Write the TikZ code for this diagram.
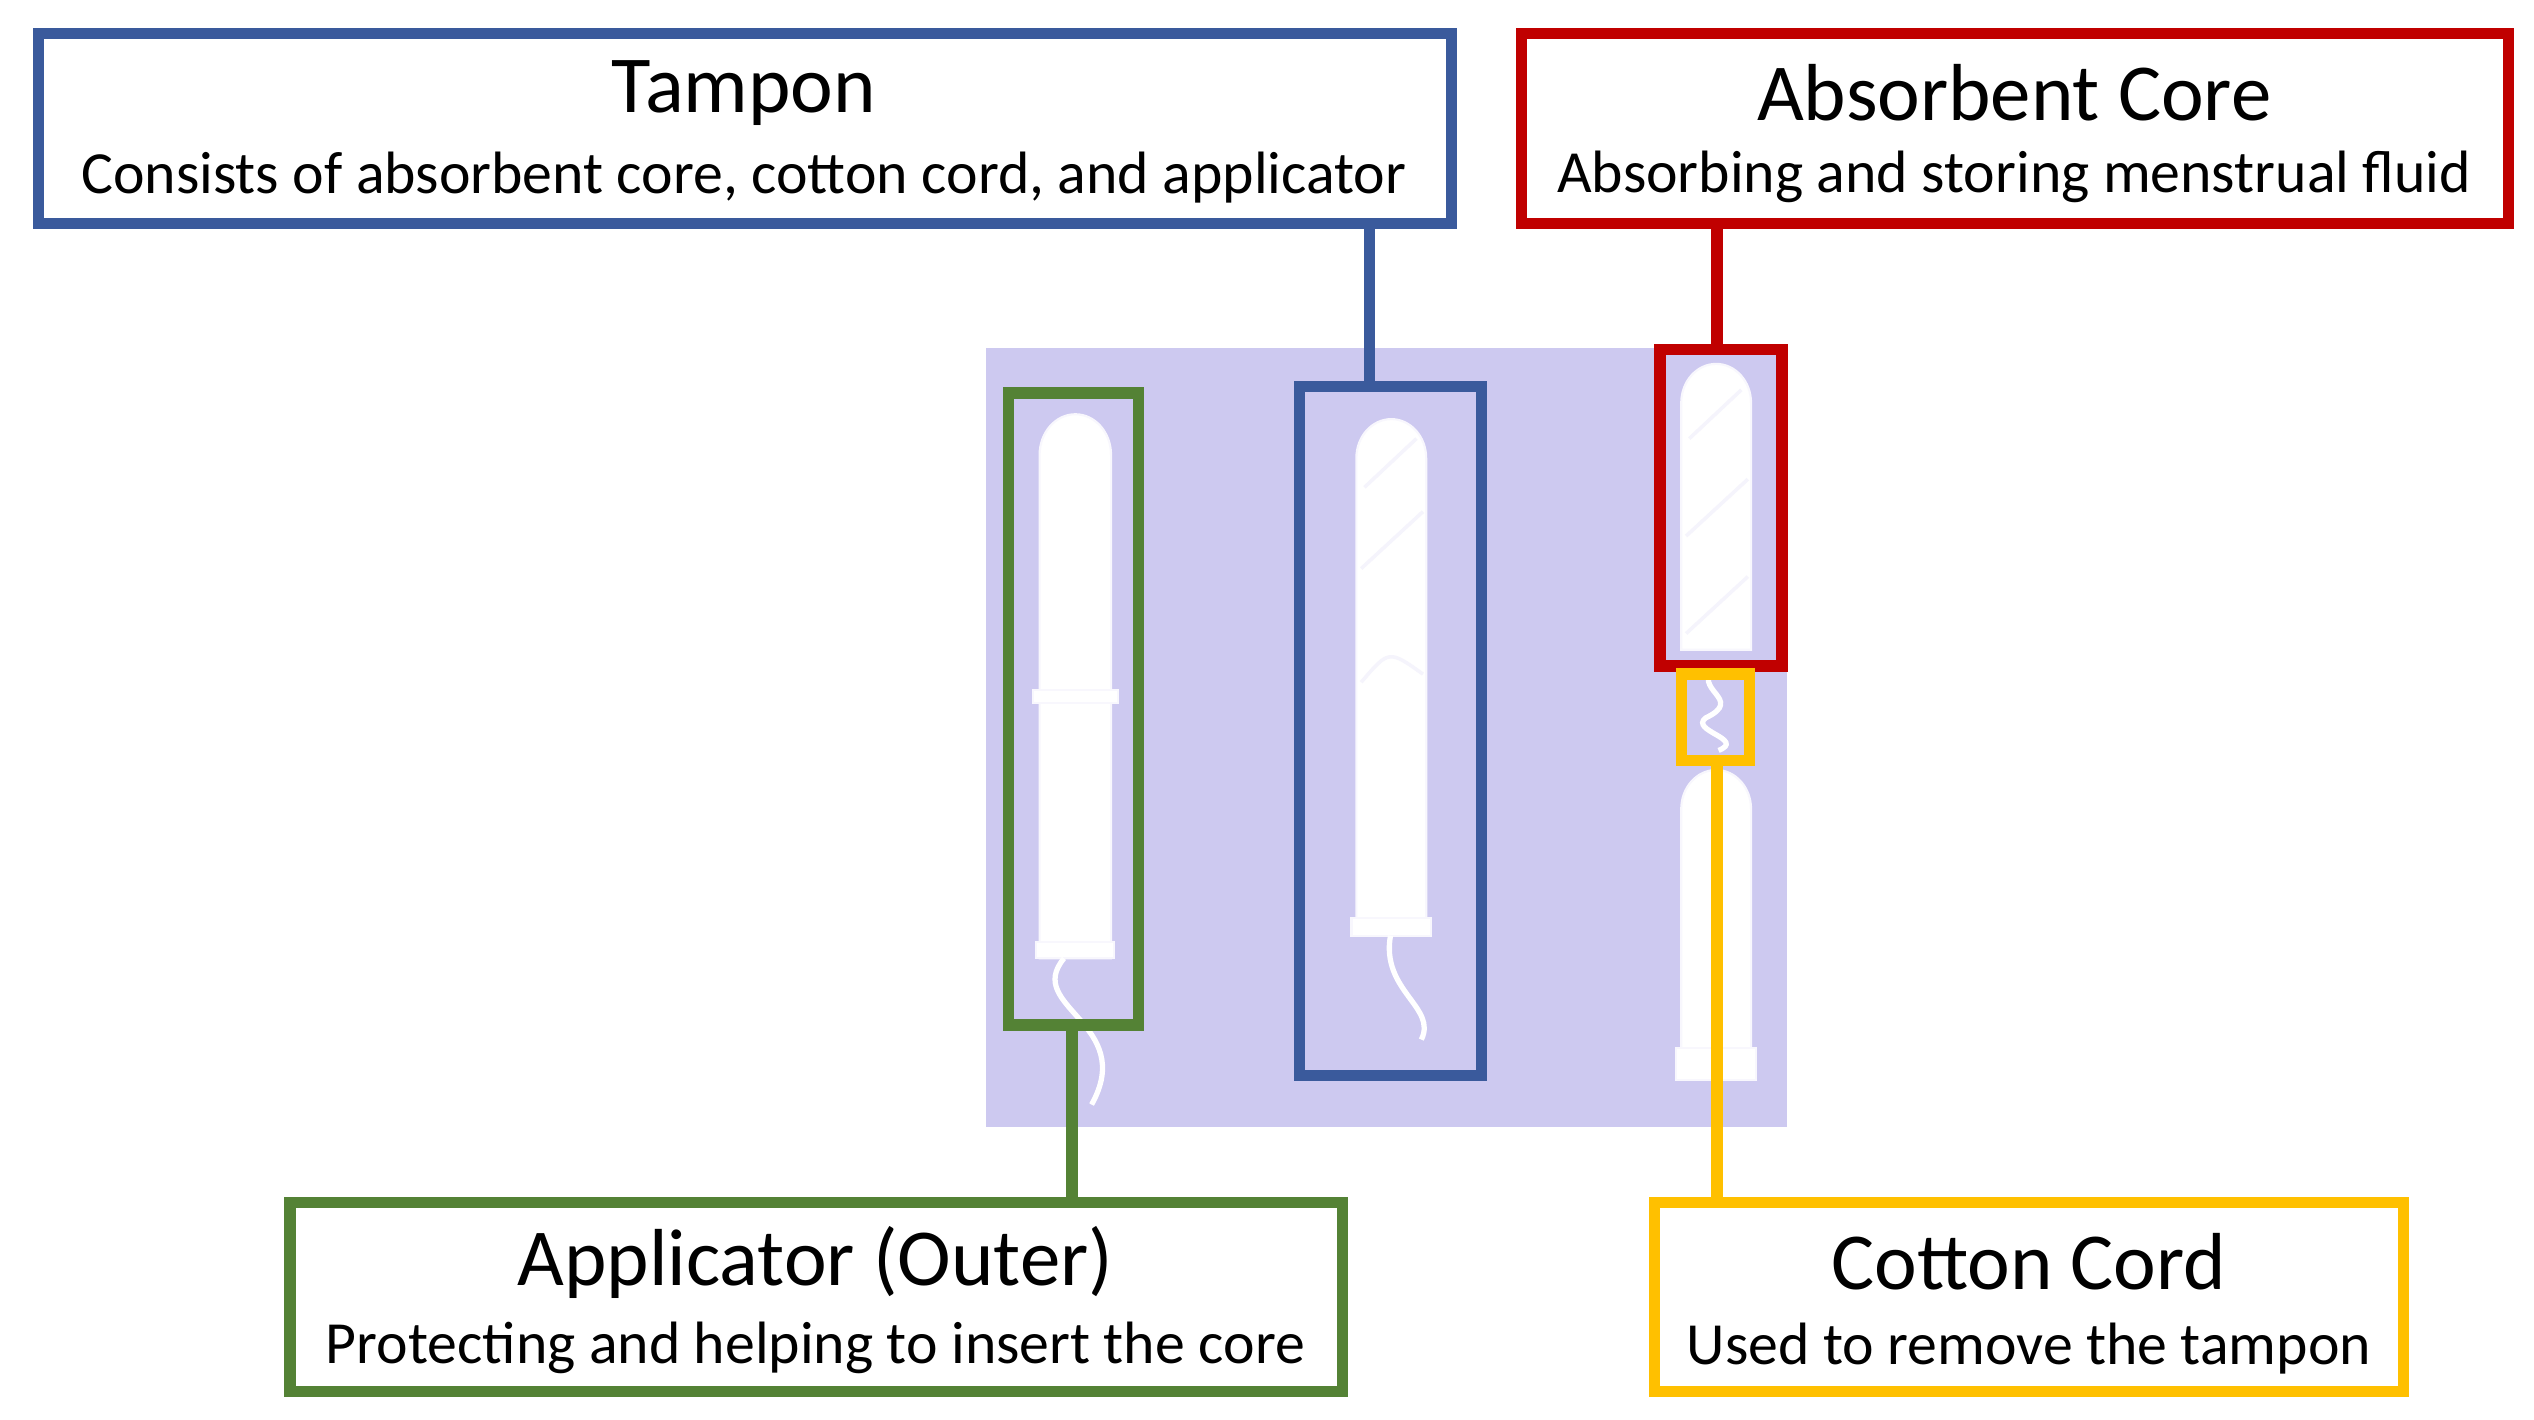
\documentclass[tikz,border=0pt]{standalone}
\usepackage{fontspec}
\setmainfont{Carlito}
\definecolor{cblue}{HTML}{3A5A9C}
\definecolor{cred}{HTML}{C00000}
\definecolor{cgreen}{HTML}{548235}
\definecolor{cyel}{HTML}{FFC000}
\definecolor{lav}{HTML}{CDC9F0}
\begin{document}
\begin{tikzpicture}[x=0.01624cm,y=-0.01624cm,
  lbl/.style={line width=3.2pt,fill=white,inner sep=0pt},
  frm/.style={draw,line width=3.2pt},
  ttl/.style={font=\fontsize{23}{26}\selectfont},
  sub/.style={font=\fontsize{17}{20}\selectfont},
  tw/.style={fill=white,draw=white!85!lav,line width=0.6pt},
  cord/.style={white,line width=1.5pt}]
\useasboundingbox (0,0) rectangle (1560,874);
\fill[white] (0,0) rectangle (1560,874);
% background
\fill[lav] (607,214) rectangle (1100,694);
% left applicator
\draw[tw] (640,590) -- (640,280) arc[start angle=180,end angle=360,x radius=22,y radius=25] -- (684,590) -- cycle;
\draw[tw] (636,425) rectangle (688,433);
\draw[tw] (638,580) rectangle (686,590);
\draw[cord] (655,590) .. controls (630,620) and (700,630) .. (672,680);
% middle tampon
\draw[tw] (835,575) -- (835,282) arc[start angle=180,end angle=360,x radius=21.5,y radius=24] -- (878,575) -- cycle;
\draw[tw] (832,565) rectangle (881,576);
\draw[white!80!lav,line width=1pt] (840,300) -- (872,270) (838,350) -- (876,315) (838,420) .. controls (855,400) .. (876,415);
\draw[cord] (856,576) .. controls (850,610) and (885,620) .. (875,640);
% right core
\draw[tw] (1035,400) -- (1035,248) arc[start angle=180,end angle=360,x radius=21.5,y radius=24] -- (1078,400) -- cycle;
\draw[white!80!lav,line width=1pt] (1040,270) -- (1072,240) (1038,330) -- (1076,295) (1038,390) -- (1076,355);
\draw[cord] (1056,410) .. controls (1040,425) and (1075,430) .. (1050,442) .. controls (1040,450) and (1075,455) .. (1058,462);
% right applicator
\draw[tw] (1035,655) -- (1035,498) arc[start angle=180,end angle=360,x radius=21.5,y radius=24] -- (1078,655) -- cycle;
\draw[tw] (1032,645) rectangle (1081,665);
% frames
\draw[frm,cgreen] (621,242) rectangle (701,631);
\draw[frm,cblue] (800,238) rectangle (912,662);
\draw[frm,cred] (1022,215) rectangle (1097,410);
\draw[frm,cyel] (1035,415) rectangle (1077,468);
\coordinate (gb) at (660,631);
\coordinate (bt) at (843,238);
\coordinate (rt) at (1057,215);
\coordinate (yb) at (1057,468);
% label boxes
\node[lbl,draw=cblue,minimum width=870*0.01624cm,minimum height=117*0.01624cm] (tam) at (458.5,79) {};
\node[lbl,draw=cred,minimum width=608*0.01624cm,minimum height=117*0.01624cm] (abs) at (1240.5,79) {};
\node[lbl,draw=cgreen,minimum width=648*0.01624cm,minimum height=116*0.01624cm] (app) at (502.5,798.5) {};
\node[lbl,draw=cyel,minimum width=461*0.01624cm,minimum height=116*0.01624cm] (cot) at (1249,798.5) {};
\node[ttl] at (458,57) {Tampon};
\node[sub] at (458,109) {Consists of absorbent core, cotton cord, and applicator};
\node[ttl] at (1240,57) {Absorbent Core};
\node[sub] at (1240,109) {Absorbing and storing menstrual fluid};
\node[ttl] at (502,777) {Applicator (Outer)};
\node[sub] at (502,830) {Protecting and helping to insert the core};
\node[ttl] at (1249,777) {Cotton Cord};
\node[sub] at (1249,830) {Used to remove the tampon};
% connectors
\draw[cblue,line width=3.2pt] (tam.south -| bt) -- (bt);
\draw[cred,line width=3.2pt] (abs.south -| rt) -- (rt);
\draw[cgreen,line width=3.2pt] (gb) -- (app.north -| gb);
\draw[cyel,line width=3.2pt] (yb) -- (cot.north -| yb);
\end{tikzpicture}
\end{document}
